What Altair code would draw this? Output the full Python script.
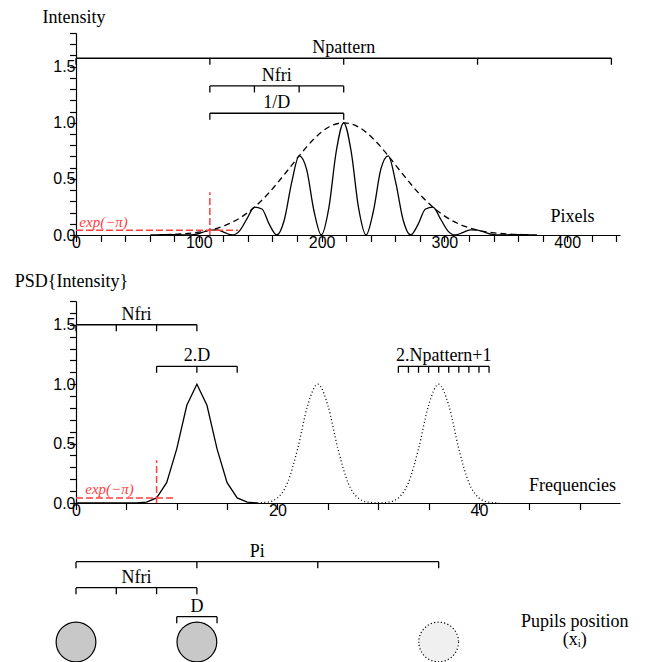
import altair as alt
import pandas as pd

# ---------------- Top panel: fringes vs pixels ----------------
pix_x = [60.6, 66.6, 72.7, 78.7, 84.8, 90.8, 96.9, 102.9, 109.0, 115.1, 121.1, 127.2,
         133.2, 139.3, 145.3, 151.4, 157.4, 163.5, 169.6, 175.6, 181.7, 187.7, 193.8,
         199.8, 205.9, 211.9, 218.0, 224.1, 230.1, 236.2, 242.2, 248.3, 254.3, 260.4,
         266.4, 272.5, 278.6, 284.6, 290.7, 296.7, 302.8, 308.8, 314.9, 320.9, 327.0,
         333.1, 339.1, 345.2, 351.2, 357.3, 363.3, 369.4, 375.4]
pix_I = [0.000, 0.002, 0.004, 0.004, 0.002, 0.000, 0.005, 0.023, 0.043, 0.046, 0.021, 0.000,
         0.037, 0.146, 0.248, 0.232, 0.095, 0.000, 0.134, 0.466, 0.705, 0.589, 0.214,
         0.000, 0.241, 0.743, 1.000, 0.743, 0.241, 0.000, 0.214, 0.589, 0.705, 0.466,
         0.134, 0.000, 0.095, 0.232, 0.248, 0.146, 0.037, 0.000, 0.021, 0.046, 0.043,
         0.023, 0.005, 0.000, 0.002, 0.004, 0.004, 0.002, 0.000]
env_x = [72.7, 84.8, 96.9, 109.0, 121.1, 133.2, 145.3, 157.4, 169.6, 181.7, 193.8, 205.9,
         218.0, 230.1, 242.2, 254.3, 266.4, 278.6, 290.7, 302.8, 314.9, 327.0, 339.1,
         351.2, 363.3]
env_I = [0.004, 0.009, 0.021, 0.043, 0.084, 0.150, 0.248, 0.379, 0.538, 0.705, 0.856, 0.962,
         1.000, 0.962, 0.856, 0.705, 0.538, 0.379, 0.248, 0.150, 0.084, 0.043, 0.021,
         0.009, 0.004]
top_red_h = {"x": [0], "x2": [132], "y": [0.043]}
top_red_v = {"x": [109], "y": [0], "y2": [0.38]}
top_br_names = ["Npattern", "Nfri", "1/D"]
top_br_level = [1.575, 1.328, 1.085]
top_br_from = [0, 109, 109]
top_br_to = [436, 218, 218]
top_br_label_x = [218, 163.5, 163.5]
top_br_ticks = [[0, 109, 218, 327, 436], [109, 145.3, 181.7, 218], [109, 218]]
top_xticks = list(range(0, 441, 20))
top_yticks = [0, 0.1, 0.2, 0.3, 0.4, 0.5, 0.6, 0.7, 0.8, 0.9, 1.0, 1.1, 1.2, 1.3, 1.4, 1.5, 1.6, 1.7, 1.8]

# ---------------- Middle panel: PSD vs frequencies ----------------
psd_f = list(range(0, 19))
psd_v = [0, 0, 0, 0, 0, 0, 0, 0.007, 0.043, 0.171, 0.456, 0.822, 1.0, 0.822, 0.456, 0.171,
         0.043, 0.007, 0.001]
dot_f = list(range(18, 43))
dot_v = [0.001, 0.007, 0.043, 0.171, 0.456, 0.822, 1.0, 0.822, 0.456, 0.171, 0.043, 0.007,
         0.001, 0.007, 0.043, 0.171, 0.456, 0.822, 1.0, 0.822, 0.456, 0.171, 0.043, 0.007,
         0.001]
mid_red_h = {"x": [0], "x2": [9.7], "y": [0.043]}
mid_red_v = {"x": [8], "y": [0], "y2": [0.36]}
mid_br_names = ["Nfri", "2.D", "2.Npattern+1"]
mid_br_level = [1.5, 1.15, 1.15]
mid_br_from = [0, 8, 32]
mid_br_to = [12, 16, 41]
mid_br_label_x = [6, 12, 36.5]
mid_br_ticks = [[0, 4, 8, 12], [8, 12, 16], list(range(32, 42))]
mid_xticks = list(range(0, 51, 5))
mid_yticks = [0, 0.1, 0.2, 0.3, 0.4, 0.5, 0.6, 0.7, 0.8, 0.9, 1.0, 1.1, 1.2, 1.3, 1.4, 1.5, 1.6, 1.7]

# ---------------- Bottom panel: pupils ----------------
bot_br_names = ["Pi", "Nfri", "D"]
bot_br_level = [100.3, 74.3, 45.3]
bot_br_from = [0, 0, 10]
bot_br_to = [36, 12, 14]
bot_br_label_x = [18, 6, 12]
bot_br_ticks = [[0, 12, 24, 36], [0, 4, 8, 12], [10, 14]]
pupil_x = [0, 12, 36]
pupil_level = [20, 20, 20]
pupil_kind = ["real", "real", "virtual"]
pupil_text = ["Pupils position", "(x\u1d62)"]
pupil_text_x = 49.5
pupil_text_level = 35.3

SERIF = "Liberation Serif"
RED = "#ff4040"


def X(domain, axis, field="x"):
    return alt.X(f"{field}:Q", scale=alt.Scale(domain=domain, nice=False, zero=False), axis=axis)


def Y(domain, axis, field="y"):
    return alt.Y(f"{field}:Q", scale=alt.Scale(domain=domain, nice=False, zero=False), axis=axis)


def brackets(names, levels, froms, tos, label_x, ticks, xd, yd, xa, ya):
    lines = pd.DataFrame({"x": froms, "x2": tos, "y": levels})
    tk = pd.DataFrame([{"x": t, "y": lv} for lv, ts in zip(levels, ticks) for t in ts])
    labs = pd.DataFrame({"x": label_x, "y": levels, "t": names})
    l1 = alt.Chart(lines).mark_rule(color="black", strokeWidth=1.3).encode(
        x=X(xd, xa), x2="x2:Q", y=Y(yd, ya))
    l2 = alt.Chart(tk).mark_tick(orient="vertical", size=6.5, thickness=1.3, yOffset=3.2,
                                 color="black", opacity=1).encode(x=X(xd, xa), y=Y(yd, ya))
    l3 = alt.Chart(labs).mark_text(font=SERIF, fontSize=18, baseline="alphabetic",
                                   align="center", dy=-5, color="black").encode(
        x=X(xd, xa), y=Y(yd, ya), text="t:N")
    return [l1, l2, l3]


def red_marks(h, v, lab_x, lab_y, xd, yd, xa, ya):
    rh = alt.Chart(pd.DataFrame(h)).mark_rule(color=RED, strokeWidth=1.5, strokeDash=[7, 3]).encode(
        x=X(xd, xa), x2="x2:Q", y=Y(yd, ya))
    rv = alt.Chart(pd.DataFrame(v)).mark_rule(color=RED, strokeWidth=1.5, strokeDash=[7, 3]).encode(
        x=X(xd, xa), y=Y(yd, ya), y2="y2:Q")
    tx = alt.Chart(pd.DataFrame({"x": [lab_x], "y": [lab_y], "t": ["exp(\u2212\u03c0)"]})).mark_text(
        font=SERIF, fontSize=15, fontStyle="italic", color=RED, align="left",
        baseline="alphabetic").encode(x=X(xd, xa), y=Y(yd, ya), text="t:N")
    return [rh, rv, tx]


# ---- top chart
TXD = [0, 443]
TYD = [0, 1.8]
top_xaxis = alt.Axis(values=top_xticks, format="d",
                     labelExpr="datum.value % 100 === 0 ? datum.label : ''",
                     title="Pixels", titleX=496, titleY=-14, titleAlign="center",
                     titleBaseline="alphabetic", labelPadding=-7)
top_yaxis = alt.Axis(values=top_yticks,
                     labelExpr="round(datum.value*10) % 5 === 0 ? format(datum.value, '.1f') : ''",
                     title="Intensity", titleAngle=0, titleAlign="left", titleBaseline="alphabetic",
                     titleX=-34, titleY=-10.2, labelPadding=-5.5)
fr = pd.DataFrame({"x": pix_x, "y": pix_I})
en = pd.DataFrame({"x": env_x, "y": env_I})
top_curve = alt.Chart(fr).mark_line(color="black", strokeWidth=1.3, interpolate="monotone").encode(
    x=X(TXD, top_xaxis), y=Y(TYD, top_yaxis))
top_env = alt.Chart(en).mark_line(color="black", strokeWidth=1.3, strokeDash=[6, 4],
                                  interpolate="monotone").encode(x=X(TXD, top_xaxis), y=Y(TYD, top_yaxis))
top = alt.layer(
    top_curve, top_env,
    *red_marks(top_red_h, top_red_v, 2.7, 0.069, TXD, TYD, top_xaxis, top_yaxis),
    *brackets(top_br_names, top_br_level, top_br_from, top_br_to, top_br_label_x, top_br_ticks,
              TXD, TYD, top_xaxis, top_yaxis),
).properties(width=544, height=202)

# ---- middle chart
MXD = [0, 54]
MYD = [0, 1.7]
mid_xaxis = alt.Axis(values=mid_xticks, format="d",
                     labelExpr="datum.value % 20 === 0 ? datum.label : ''",
                     title="Frequencies", titleX=496, titleY=-12.7, titleAlign="center",
                     titleBaseline="alphabetic", labelPadding=-7)
mid_yaxis = alt.Axis(values=mid_yticks,
                     labelExpr="round(datum.value*10) % 5 === 0 ? format(datum.value, '.1f') : ''",
                     title="PSD{Intensity}", titleAngle=0, titleAlign="left", titleBaseline="alphabetic",
                     titleX=-61.7, titleY=-14.7, labelPadding=-5.5)
ps = pd.DataFrame({"x": psd_f, "y": psd_v})
dt = pd.DataFrame({"x": dot_f, "y": dot_v})
mid_curve = alt.Chart(ps).mark_line(color="black", strokeWidth=1.3).encode(
    x=X(MXD, mid_xaxis), y=Y(MYD, mid_yaxis))
mid_dot = alt.Chart(dt).mark_line(color="black", strokeWidth=1.3, strokeDash=[1, 2.5],
                                  interpolate="monotone").encode(x=X(MXD, mid_xaxis), y=Y(MYD, mid_yaxis))
mid = alt.layer(
    mid_curve, mid_dot,
    *red_marks(mid_red_h, mid_red_v, 0.92, 0.079, MXD, MYD, mid_xaxis, mid_yaxis),
    *brackets(mid_br_names, mid_br_level, mid_br_from, mid_br_to, mid_br_label_x, mid_br_ticks,
              MXD, MYD, mid_xaxis, mid_yaxis),
).properties(width=544, height=202)

# ---- bottom chart (plot area starts 66 px below the middle one)
BYD = [0, 93]
pp = pd.DataFrame({"x": pupil_x, "y": pupil_level, "k": pupil_kind})
real = alt.Chart(pp).transform_filter("datum.k === 'real'").mark_point(
    shape="circle", size=1580, fill="#c8c8c8", fillOpacity=1, stroke="black", strokeWidth=1.2,
    opacity=1).encode(x=X(MXD, None), y=Y(BYD, None))
virt = alt.Chart(pp).transform_filter("datum.k === 'virtual'").mark_point(
    shape="circle", size=1580, fill="#f0f0f0", fillOpacity=1, stroke="black", strokeWidth=1.2,
    strokeDash=[1.2, 2.2], opacity=1).encode(x=X(MXD, None), y=Y(BYD, None))
ptxt = alt.Chart(pd.DataFrame({"x": [pupil_text_x], "y": [pupil_text_level],
                               "t": [pupil_text]})).mark_text(
    font=SERIF, fontSize=18, align="center", baseline="alphabetic", lineHeight=18.3,
    color="black").encode(x=X(MXD, None), y=Y(BYD, None), text="t")
bottom = alt.layer(
    real, virt, ptxt,
    *brackets(bot_br_names, bot_br_level, bot_br_from, bot_br_to, bot_br_label_x, bot_br_ticks,
              MXD, BYD, None, None),
).properties(width=544, height=93)

chart = alt.vconcat(top, mid, bottom, spacing=66, bounds="flush").properties(
    padding={"left": 5, "top": 0, "right": 0, "bottom": 0}
).configure_axis(
    labelFont="Liberation Sans", labelFontSize=16, labelColor="black",
    titleFont=SERIF, titleFontSize=18, titleFontWeight="normal", titleColor="black",
    domainColor="black", tickColor="black", domainWidth=1.2, tickWidth=1.2, tickSize=6.5,
    grid=False, labelOverlap=False, labelFlush=False, labelBound=False
).configure_view(stroke="transparent")

chart.save("out.html", embed_options={"renderer": "svg", "actions": False})
